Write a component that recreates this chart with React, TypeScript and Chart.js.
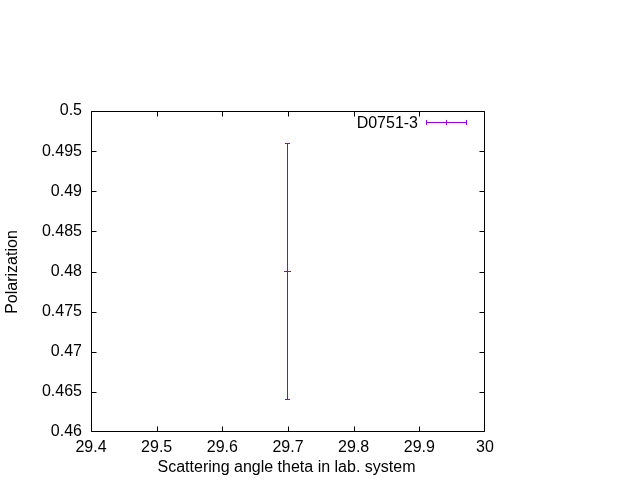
import { useEffect, useRef } from "react";
import { Chart, registerables } from "chart.js";

Chart.register(...registerables);

const seriesName = "D0751-3";
const xValues = [29.7];
const yValues = [0.48];
const yErrorLow = [0.464];
const yErrorHigh = [0.496];

const xTickValues = [29.4, 29.5, 29.6, 29.7, 29.8, 29.9, 30];
const xTickLabels = ["29.4", "29.5", "29.6", "29.7", "29.8", "29.9", "30"];
const yTickValues = [0.46, 0.465, 0.47, 0.475, 0.48, 0.485, 0.49, 0.495, 0.5];
const yTickLabels = ["0.46", "0.465", "0.47", "0.475", "0.48", "0.485", "0.49", "0.495", "0.5"];

const xTitle = "Scattering angle theta in lab. system";
const yTitle = "Polarization";

const FONT = '16px "Liberation Sans", Arial, sans-serif';
const PURPLE = "#9400D3";

const gnuplotPlugin = {
  id: "gnuplotDecor",
  afterDraw(chart: any) {
    const ctx = chart.ctx as CanvasRenderingContext2D;
    const area = chart.chartArea;
    const xs = chart.scales.x;
    const ys = chart.scales.y;
    const L = Math.round(area.left) + 0.5;
    const R = Math.round(area.right) - 0.5;
    const T = Math.round(area.top) + 0.5;
    const B = Math.round(area.bottom) - 0.5;
    const tick = 5;
    const clamp = (v: number, a: number, b: number) => Math.max(a, Math.min(b, v));

    ctx.save();
    ctx.lineWidth = 1;
    ctx.strokeStyle = "#000";
    ctx.beginPath();
    ctx.rect(L, T, R - L, B - T);
    // ticks (inward, mirrored)
    xTickValues.forEach((v) => {
      const px = clamp(Math.round(xs.getPixelForValue(v)) + 0.5, L, R);
      ctx.moveTo(px, B);
      ctx.lineTo(px, B - tick);
      ctx.moveTo(px, T);
      ctx.lineTo(px, T + tick);
    });
    yTickValues.forEach((v) => {
      const py = clamp(Math.round(ys.getPixelForValue(v)) + 0.5, T, B);
      ctx.moveTo(L, py);
      ctx.lineTo(L + tick, py);
      ctx.moveTo(R, py);
      ctx.lineTo(R - tick, py);
    });
    ctx.stroke();

    // error bars
    ctx.strokeStyle = PURPLE;
    ctx.beginPath();
    xValues.forEach((x, i) => {
      const px = Math.round(xs.getPixelForValue(x)) - 0.5;
      const pLo = Math.round(ys.getPixelForValue(yErrorLow[i])) - 0.5;
      const pHi = Math.round(ys.getPixelForValue(yErrorHigh[i])) + 0.5;
      const pc = Math.round(ys.getPixelForValue(yValues[i])) - 0.5;
      ctx.moveTo(px, pLo);
      ctx.lineTo(px, pHi);
      ctx.moveTo(px - 2.5, pLo);
      ctx.lineTo(px + 2.5, pLo);
      ctx.moveTo(px - 2.5, pHi);
      ctx.lineTo(px + 2.5, pHi);
      ctx.moveTo(px - 3.5, pc);
      ctx.lineTo(px + 3.5, pc);
    });
    ctx.stroke();

    // legend sample
    const ly = 122.5;
    const lx1 = 426;
    const lx2 = 467;
    const lxc = 446.5;
    ctx.beginPath();
    ctx.moveTo(lx1, ly);
    ctx.lineTo(lx2, ly);
    [lx1 + 0.5, lx2 - 0.5, lxc].forEach((x) => {
      ctx.moveTo(x, ly - 2.5);
      ctx.lineTo(x, ly + 2.5);
    });
    ctx.stroke();

    ctx.fillStyle = "#000";
    ctx.font = FONT;
    ctx.textAlign = "right";
    ctx.textBaseline = "alphabetic";
    ctx.fillText(seriesName, 418, 128);

    // axis titles
    ctx.textAlign = "center";
    ctx.fillText(xTitle, 286.5, 472);
    ctx.translate(17, 272);
    ctx.rotate(-Math.PI / 2);
    ctx.fillText(yTitle, 0, 0);
    ctx.restore();
  },
};

export default function App() {
  const ref = useRef<HTMLCanvasElement | null>(null);

  useEffect(() => {
    if (!ref.current) return;
    const chart = new Chart(ref.current, {
      type: "scatter",
      data: {
        datasets: [
          {
            label: seriesName,
            data: xValues.map((x, i) => ({ x, y: yValues[i] })),
            pointRadius: 0,
            borderColor: PURPLE,
            backgroundColor: PURPLE,
          },
        ],
      },
      options: {
        animation: false,
        responsive: false,
        maintainAspectRatio: false,
        layout: { padding: { top: 111, right: 155, left: 0, bottom: 0 } },
        plugins: { legend: { display: false }, tooltip: { enabled: false } },
        scales: {
          x: {
            type: "linear",
            min: 29.4,
            max: 30,
            grid: { display: false, drawTicks: false },
            border: { display: false },
            afterBuildTicks: (scale: any) => {
              scale.ticks = xTickValues.map((v) => ({ value: v }));
            },
            afterFit: (scale: any) => {
              scale.height = 48;
            },
            ticks: {
              color: "#000",
              font: { family: '"Liberation Sans", Arial, sans-serif', size: 16 },
              padding: 6,
              maxRotation: 0,
              autoSkip: false,
              callback: (_v: any, i: number) => xTickLabels[i],
            },
          },
          y: {
            type: "linear",
            min: 0.46,
            max: 0.5,
            grid: { display: false, drawTicks: false },
            border: { display: false },
            afterBuildTicks: (scale: any) => {
              scale.ticks = yTickValues.map((v) => ({ value: v }));
            },
            afterFit: (scale: any) => {
              scale.width = 91;
            },
            ticks: {
              color: "#000",
              font: { family: '"Liberation Sans", Arial, sans-serif', size: 16 },
              padding: 9,
              labelOffset: 0,
              autoSkip: false,
              callback: (_v: any, i: number) => yTickLabels[i],
            },
          },
        },
      },
      plugins: [gnuplotPlugin],
    });
    return () => chart.destroy();
  }, []);

  return (
    <div style={{ position: "fixed", left: 0, top: 0, width: 640, height: 480, background: "#fff" }}>
      <canvas ref={ref} width={640} height={480} style={{ width: 640, height: 480 }} />
    </div>
  );
}
